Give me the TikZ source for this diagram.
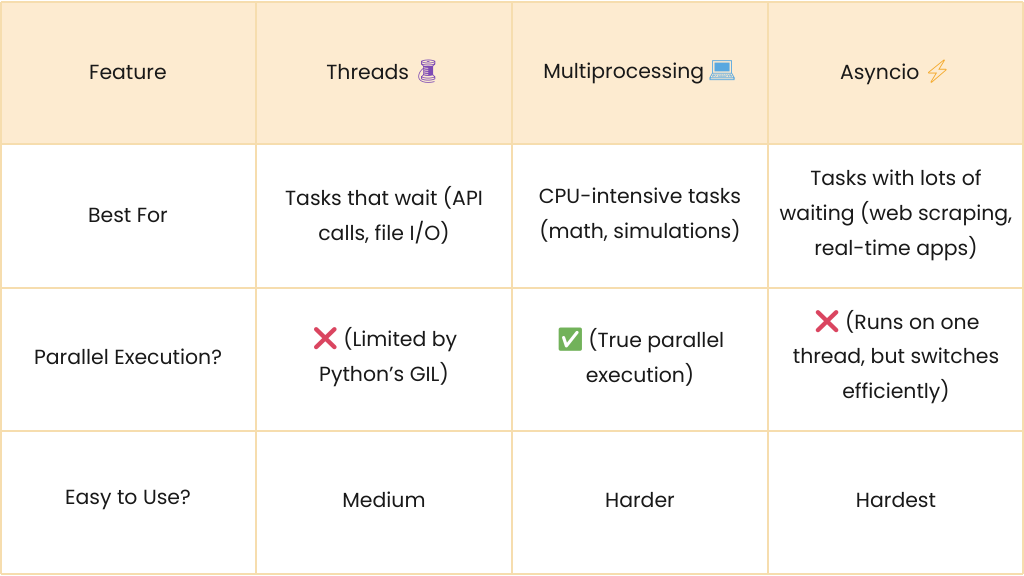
\documentclass[tikz,border=0pt]{standalone}
\usepackage{fontspec}
\setmainfont{Poppins}
\newfontfamily\emoji{Noto Emoji}
\usepackage{tikz}
\definecolor{headfill}{HTML}{FDEBD0}
\definecolor{gridline}{HTML}{F6DDAE}
\definecolor{spool}{HTML}{7E4BB5}
\definecolor{screen}{HTML}{58A8E0}
\definecolor{bolt}{HTML}{F4A623}
\definecolor{nored}{HTML}{DA4560}
\definecolor{yesgreen}{HTML}{72B25A}
\newcommand{\emo}[2]{{\emoji\fontsize{23}{35}\selectfont\color{#1}#2}}
\tikzset{
  cell/.style={align=center, text=black!90, font=\fontsize{20.5}{35}\selectfont, inner sep=0pt},
  grid/.style={draw=gridline, line width=1.6bp}
}
\begin{document}
\begin{tikzpicture}[x=1bp, y=-1bp]
\useasboundingbox (0,0) rectangle (1024,576);
\fill[white] (0,0) rectangle (1024,576);
\fill[headfill] (1,2) rectangle (1023,144);
\foreach \y in {2,144,288,431,574} \draw[grid] (1,\y)--(1023,\y);
\foreach \x in {1,256,512,768,1023} \draw[grid] (\x,2)--(\x,574);

\node[cell] (feature) at (128,72) {Feature};
\node[cell] (threads) at (384,72) {Threads\,\emo{spool}{🧵}};
\node[cell] (multi) at (640,72) {Multiprocessing\,\emo{screen}{💻}};
\node[cell] (async) at (896,72) {Asyncio\,\emo{bolt}{⚡}};

\node[cell] (best) at (128,215) {Best For};
\node[cell] (bestthr) at (384,215) {Tasks that wait (API\\calls, file I/O)};
\node[cell] (bestmul) at (640,215) {CPU-intensive tasks\\(math, simulations)};
\node[cell] (bestasy) at (896,215) {Tasks with lots of\\waiting (web scraping,\\real-time apps)};

\node[cell] (par) at (128,357) {Parallel Execution?};
\node[cell] (parthr) at (384,357) {\emo{nored}{❌}\,(Limited by\\Python’s GIL)};
\node[cell] (parmul) at (640,357) {\emo{yesgreen}{✅}\,(True parallel\\execution)};
\node[cell] (parasy) at (896,357) {\emo{nored}{❌}\,(Runs on one\\thread, but switches\\efficiently)};

\node[cell] (easy) at (128,500) {Easy to Use?};
\node[cell] (easythr) at (384,500) {Medium};
\node[cell] (easymul) at (640,500) {Harder};
\node[cell] (easyasy) at (896,500) {Hardest};
\end{tikzpicture}
\end{document}
